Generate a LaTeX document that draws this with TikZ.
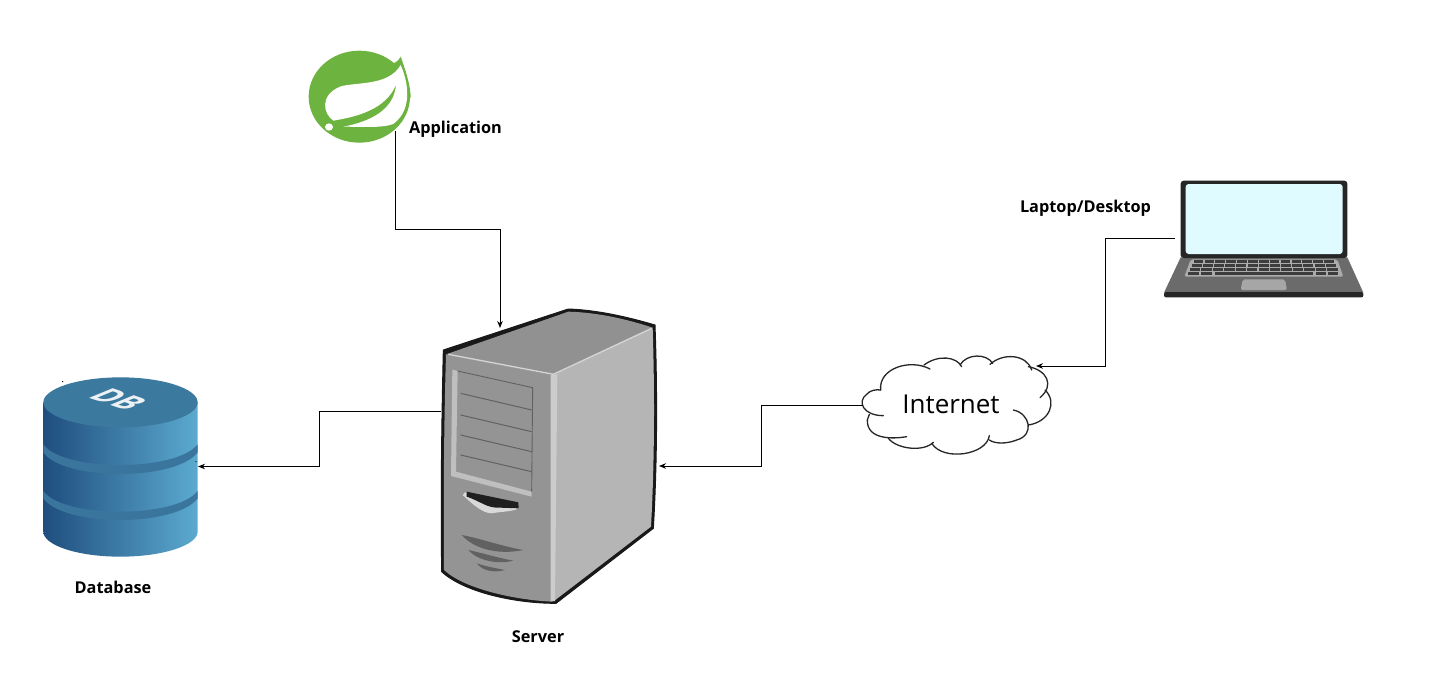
\documentclass[tikz,border=0pt]{standalone}
\usepackage{fontspec}
\setmainfont{Open Sans}
\usetikzlibrary{arrows.meta,calc}
\definecolor{springgreen}{HTML}{6DB33F}
\definecolor{dbleft}{HTML}{1F4E7E}
\definecolor{dbright}{HTML}{5BAAD0}
\definecolor{dbtop}{HTML}{3B799F}
\definecolor{dbband}{HTML}{3A759E}
\definecolor{screenblue}{HTML}{E0FBFF}
\tikzset{
  conn/.style={draw=black,line width=1pt,-{Stealth[length=7pt,width=5.5pt]}},
  iconbox/.style={inner sep=0pt,outer sep=0pt,minimum width=#1},
  lbl/.style={font=\fontsize{16.3}{19}\selectfont\bfseries,text=black,inner sep=0pt},
  cloudline/.style={draw=black!85,line width=1.3pt,line cap=round},
  zoomscope/.style={x=0.33333pt,y=-0.33333pt}
}
\begin{document}
\begin{tikzpicture}[x=1pt,y=-1pt]
\useasboundingbox (0,0) rectangle (1444,686);
\fill[white] (0,0) rectangle (1444,686);

% invisible anchors covering each icon
\node[iconbox=102pt,minimum height=92pt] (spring) at (359,97) {};
\node[iconbox=217pt,minimum height=296pt] (server) at (549.5,456) {};
\node[iconbox=155pt,minimum height=180pt] (db) at (120.5,466.5) {};
\node[iconbox=190pt,minimum height=92pt] (cloud) at (958,405) {};
\node[iconbox=200pt,minimum height=118pt] (laptop) at (1264,238) {};

% ---- Spring logo
\begin{scope}[shift={(290,30)},zoomscope]
  \fill[springgreen] (208,200) ellipse [x radius=152, y radius=138];
  \fill[springgreen] (332,80) .. controls (350,130) and (362,170) .. (362,205) -- (290,100) .. controls (310,105) and (325,95) .. cycle;
  \fill[white] (130,272) .. controls (98,250) and (90,195) .. (150,170)
     .. controls (195,155) and (295,170) .. (332,105)
     .. controls (352,150) and (372,235) .. (310,282)
     .. controls (275,295) and (210,290) .. (160,290)
     .. controls (240,275) and (312,240) .. (318,165)
     .. controls (285,240) and (200,260) .. cycle;
  \fill[white] (117,291) circle [x radius=12, y radius=11];
\end{scope}

% ---- Server
\begin{scope}[shift={(420,295)},zoomscope]
  \fill[black!90,draw=black!90,line width=1pt,line join=round]
    (70,165) -- (445,42) .. controls (530,45) and (620,65) .. (705,90)
    .. controls (712,280) and (712,500) .. (700,700) -- (408,925)
    .. controls (280,925) and (130,890) .. (65,830)
    .. controls (62,600) and (65,380) .. cycle;
  \fill[black!43] (78,178) -- (445,50) .. controls (530,52) and (620,72) .. (698,98) -- (400,240) -- cycle;
  \fill[black!42] (78,178) -- (400,240) -- (398,920)
    .. controls (280,915) and (130,880) .. (72,825)
    .. controls (70,600) and (72,380) .. cycle;
  \fill[black!29] (400,240) -- (698,98) .. controls (704,280) and (704,500) .. (693,695) -- (402,918) -- cycle;
  \fill[black!20] (392,240) -- (412,238) -- (405,918) -- (392,918) -- cycle;
  \draw[black!17,line width=1.4pt] (85,178) -- (400,238) -- (695,100);
  % panel
  \fill[black!25] (97,224) -- (113,228) -- (108,530) -- (335,590) -- (335,605) -- (93,543) -- cycle;
  \draw[black!62,line width=0.9pt] (113,228) -- (338,278) -- (335,590);
  \foreach \ya/\yb in {295/345,360/410,420/470,480/530}
    \draw[black!62,line width=1pt] (122,\ya) -- (335,\yb);
  % drive slot
  \fill[black!15] (128,600) .. controls (135,585) and (150,590) .. (170,610) -- (295,640)
    .. controls (280,650) and (240,650) .. (215,655) .. controls (185,655) and (150,620) .. cycle;
  \fill[black!88] (140,590) -- (295,622) -- (296,640) -- (240,638)
    .. controls (200,640) and (185,620) .. (140,605) -- cycle;
  % vents
  \fill[black!62] (125,720) .. controls (180,730) and (250,755) .. (310,765) .. controls (250,778) and (170,770) .. cycle;
  \fill[black!62] (145,765) .. controls (190,775) and (240,790) .. (280,797) .. controls (240,808) and (175,800) .. cycle;
  \fill[black!62] (170,805) .. controls (200,815) and (230,820) .. (255,825) .. controls (225,833) and (190,830) .. cycle;
\end{scope}

% ---- Database
\begin{scope}[shift={(30,365)},zoomscope]
  \shade[left color=dbleft,right color=dbright]
    (40,112) -- (40,500) .. controls (40,541) and (144,575) .. (271,575)
    .. controls (398,575) and (503,541) .. (503,500) -- (503,112) -- cycle;
  \fill[dbtop] (40,112) .. controls (40,71) and (144,37) .. (271,37)
    .. controls (398,37) and (503,71) .. (503,112)
    .. controls (503,153) and (398,187) .. (271,187)
    .. controls (144,187) and (40,153) .. cycle;
  \fill[dbband] (40,238) .. controls (70,280) and (170,300) .. (271,300)
    .. controls (370,300) and (470,280) .. (503,238) -- (503,262)
    .. controls (470,305) and (370,327) .. (271,327)
    .. controls (170,327) and (70,305) .. (40,262) -- cycle;
  \fill[dbband] (40,378) .. controls (70,420) and (170,440) .. (271,440)
    .. controls (370,440) and (470,420) .. (503,378) -- (503,400)
    .. controls (470,443) and (370,465) .. (271,465)
    .. controls (170,465) and (70,443) .. (40,400) -- cycle;
  \fill[black] (98,50) circle [radius=2];
  \fill[black] (498,290) circle [radius=2];
\end{scope}
\begin{scope}[shift={(118.5,399.7)}]
  \node[transform shape,cm={1.42,-0.48,1.65,0.68,(0,0)},text=white!90!dbtop,inner sep=0pt,font=\fontsize{20}{20}\selectfont\bfseries] (dbtext) at (0,0) {DB};
\end{scope}

% ---- Laptop
\begin{scope}[shift={(1150,170)},zoomscope]
  \fill[black!58] (92,262) -- (592,262) -- (640,368) -- (42,368) -- cycle;
  \fill[black!85,rounded corners=2pt] (42,366) -- (640,366) -- (640,382) -- (42,382) -- cycle;
  \fill[black!85,rounded corners=3pt] (92,32) rectangle (592,264);
  \fill[screenblue,rounded corners=3pt] (107,42) rectangle (578,252);
  \fill[black!33,rounded corners=2pt] (122,268) -- (562,268) -- (580,320) -- (103,320) -- cycle;
  \foreach \r in {0,1,2} {
    \foreach \i in {0,...,12} {
      \pgfmathsetmacro{\yt}{271+11.5*\r}
      \pgfmathsetmacro{\lx}{131-5.5*\r}
      \pgfmathsetmacro{\rx}{555+5.5*\r}
      \pgfmathsetmacro{\st}{(\rx-\lx)/13}
      \pgfmathsetmacro{\xa}{\lx+\st*\i}
      \pgfmathsetmacro{\xb}{\xa+\st-3.5}
      \fill[black!76] (\xa,\yt) rectangle (\xb,\yt+9);
    }
  }
  \foreach \xa/\xb in {113/147,153/187,195/490,497/527,533/563}
    \fill[black!76] (\xa,305.5) rectangle (\xb,314.5);
  \fill[black!35,rounded corners=2pt] (278,328) -- (405,328) -- (411,360) -- (272,360) -- cycle;
\end{scope}

% ---- Cloud
\begin{scope}[shift={(850,345)},zoomscope]
  \draw[cloudline] (92,135) .. controls (85,70) and (180,40) .. (240,72);
  \draw[cloudline] (222,60) .. controls (265,28) and (320,35) .. (335,65);
  \draw[cloudline] (330,60) .. controls (350,25) and (410,25) .. (428,55);
  \draw[cloudline] (420,58) .. controls (460,22) and (530,28) .. (545,75);
  \draw[cloudline] (535,65) .. controls (590,75) and (615,120) .. (570,158);
  \draw[cloudline] (585,135) .. controls (622,170) and (600,230) .. (535,240);
  \draw[cloudline] (490,195) .. controls (540,205) and (555,270) .. (500,285) .. controls (470,297) and (435,297) .. (418,285);
  \draw[cloudline] (418,272) .. controls (410,330) and (280,350) .. (245,295);
  \draw[cloudline] (115,280) .. controls (140,312) and (220,322) .. (250,292);
  \draw[cloudline] (170,275) .. controls (130,282) and (50,285) .. (52,225) -- (58,208);
  \draw[cloudline] (100,212) .. controls (40,212) and (20,170) .. (50,148) .. controls (60,135) and (80,133) .. (92,135);
\end{scope}

% ---- Labels
\node[lbl] (lapp) at (455.5,129) {Application};
\node[lbl] (llap) at (1085.5,208.5) {Laptop/Desktop};
\node[lbl] (ldb) at (113,587) {Database};
\node[lbl] (lsrv) at (538,637) {Server};
\node[inner sep=0pt,font=\fontsize{26}{30}\selectfont,text=black] (lnet) at (951,404) {Internet};

% ---- Connectors
\draw[conn] ($(spring.south)+(36,-12)$) -- ++(0,98) -| ($(server.north)+(-49.5,20)$);
\draw[conn] ($(server.west)+(0,-45)$) -| (319,466.5) -- (db.east);
\draw[conn] ($(cloud.west)$) -| (761,466) -- ($(server.east)+(1,10)$);
\draw[conn] ($(laptop.west)+(11,0)$) -| (1105,366) -- ($(cloud.north east)+(-17,7)$);
\end{tikzpicture}
\end{document}
